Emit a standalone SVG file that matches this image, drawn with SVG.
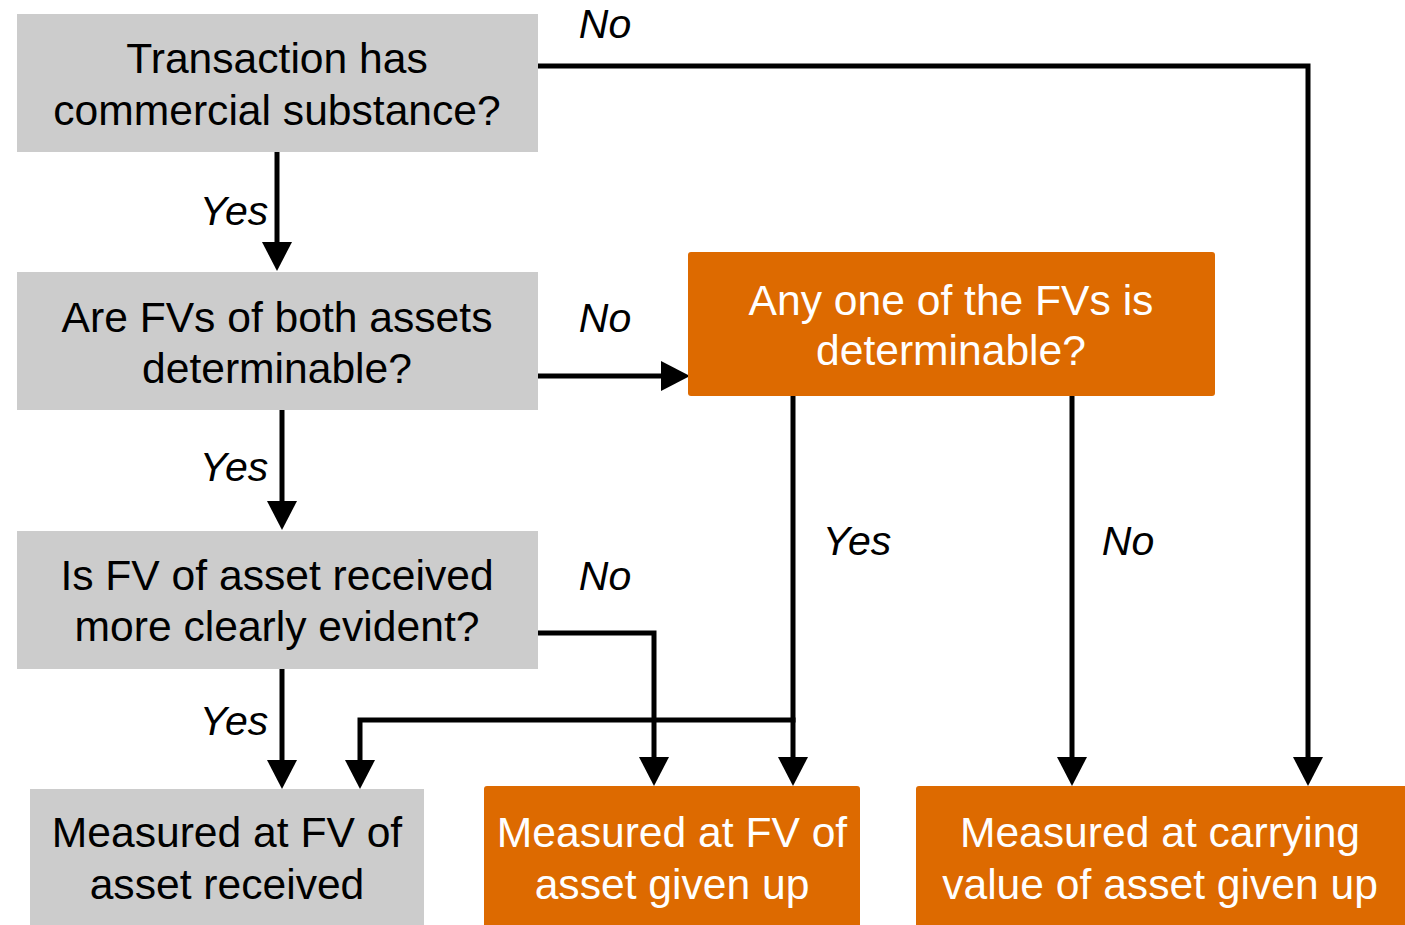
<svg xmlns="http://www.w3.org/2000/svg" width="1405" height="925" viewBox="0 0 1405 925">
<style>
.gray{fill:#CCCCCC}
.orange{fill:#DD6A00}
.t{font-family:"Liberation Sans",Arial,sans-serif;font-size:42.6px;text-anchor:middle}
.tb{fill:#000}
.tw{fill:#fff}
.lbl{font-family:"Liberation Sans",Arial,sans-serif;font-size:41px;font-style:italic;text-anchor:middle;fill:#000}
.c{fill:none;stroke:#000;stroke-width:5;stroke-linejoin:miter;stroke-linecap:butt}
</style>
<defs>
<marker id="arr" markerUnits="userSpaceOnUse" markerWidth="30" markerHeight="30" refX="2" refY="15" orient="auto">
<path d="M0,0 L29,15 L0,30 z" fill="#000"/>
</marker>
</defs>
<rect width="1405" height="925" fill="#fff"/>
<g id="connectors">
<path class="c" d="M538,66 H1308 V759" marker-end="url(#arr)"/>
<path class="c" d="M277,150 V244" marker-end="url(#arr)"/>
<path class="c" d="M538,376 H663" marker-end="url(#arr)"/>
<path class="c" d="M282,408 V503" marker-end="url(#arr)"/>
<path class="c" d="M282,667 V762" marker-end="url(#arr)"/>
<path class="c" d="M538,633 H654 V759" marker-end="url(#arr)"/>
<path class="c" d="M793,390 V759" marker-end="url(#arr)"/>
<path class="c" d="M795.5,720 H360 V762" marker-end="url(#arr)"/>
<path class="c" d="M1072,390 V759" marker-end="url(#arr)"/>
</g>
<g id="labels">
<text class="lbl" x="605" y="38">No</text>
<text class="lbl" x="234" y="225">Yes</text>
<text class="lbl" x="605" y="332">No</text>
<text class="lbl" x="234" y="481">Yes</text>
<text class="lbl" x="605" y="590">No</text>
<text class="lbl" x="234" y="735">Yes</text>
<text class="lbl" x="857" y="555">Yes</text>
<text class="lbl" x="1128" y="555">No</text>
</g>
<g id="n1">
<rect class="gray" x="17" y="14" width="521" height="138"/>
<text class="t tb" x="277" y="73">Transaction has</text>
<text class="t tb" x="277" y="125">commercial substance?</text>
</g>
<g id="n2">
<rect class="gray" x="17" y="272" width="521" height="138"/>
<text class="t tb" x="277" y="332">Are FVs of both assets</text>
<text class="t tb" x="277" y="383">determinable?</text>
</g>
<g id="n3">
<rect class="gray" x="17" y="531" width="521" height="138"/>
<text class="t tb" x="277" y="590">Is FV of asset received</text>
<text class="t tb" x="277" y="641">more clearly evident?</text>
</g>
<g id="n4">
<rect class="gray" x="30" y="789" width="394" height="136"/>
<text class="t tb" x="227" y="847">Measured at FV of</text>
<text class="t tb" x="227" y="899">asset received</text>
</g>
<g id="n5">
<rect class="orange" x="688" y="252" width="527" height="144" rx="3"/>
<text class="t tw" x="951" y="315">Any one of the FVs is</text>
<text class="t tw" x="951" y="365">determinable?</text>
</g>
<g id="n6">
<rect class="orange" x="484" y="786" width="376" height="145" rx="3"/>
<text class="t tw" x="672" y="847">Measured at FV of</text>
<text class="t tw" x="672" y="899">asset given up</text>
</g>
<g id="n7">
<rect class="orange" x="916" y="786" width="495" height="145" rx="3"/>
<text class="t tw" x="1160" y="847">Measured at carrying</text>
<text class="t tw" x="1160" y="899">value of asset given up</text>
</g>
</svg>
